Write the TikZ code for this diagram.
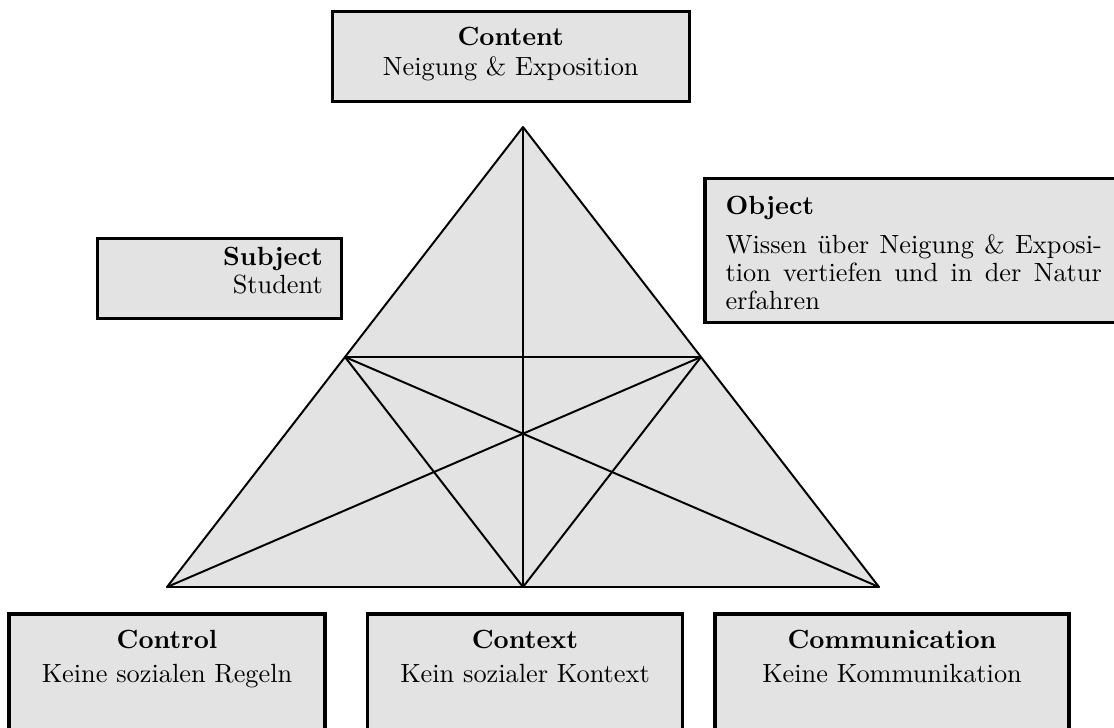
\documentclass[tikz,border=0pt]{standalone}
\usetikzlibrary{calc,fit}
\definecolor{boxgray}{RGB}{227,227,227}
\tikzset{
  box/.style={draw=black, fill=boxgray, line width=1.2pt, inner sep=0pt, rectangle},
  txt/.style={inner sep=0pt, anchor=north},
  tri/.style={line width=0.75pt, line join=round},
}
\begin{document}
\begin{tikzpicture}[x=0.38pt,y=-0.38pt]
\useasboundingbox (0,0) rectangle (1114,727);
\clip (0,0) rectangle (1114,727);
% triangle
\coordinate (A) at (523,127);
\coordinate (B) at (167,587);
\coordinate (C) at (879,587);
\coordinate (mAB) at ($(A)!0.5!(B)$);
\coordinate (mCA) at ($(A)!0.5!(C)$);
\coordinate (mBC) at ($(B)!0.5!(C)$);
\draw[tri, fill=boxgray] (A) -- (B) -- (C) -- cycle;
\draw[tri] (A) -- (mBC);
\draw[tri] (mAB) -- (mCA);
\draw[tri] (mAB) -- (mBC) -- (mCA);
\draw[tri] (B) -- (mCA);
\draw[tri] (C) -- (mAB);
% boxes
\node[box, fit={(332.3,11.7) (689.3,101.7)}] (contentbox) {};
\node[box, fit={(97.3,238.3) (341.7,318.3)}] (subjectbox) {};
\node[box, fit={(705,178.3) (1121,322.7)}] (objectbox) {};
\node[box, fit={(9,614) (325,760)}] (controlbox) {};
\node[box, fit={(367.3,614) (682.7,760)}] (contextbox) {};
\node[box, fit={(715,614) (1069,760)}] (commbox) {};
% texts
\node[txt, align=center, font={\fontsize{10}{11.4}\selectfont}] (contenttxt) at (510.7,26.7)
  {\textbf{Content}\\Neigung \& Exposition};
\node[txt, anchor=north east, align=right, font={\fontsize{10}{10.75}\selectfont}] (subjecttxt) at (323.3,246.7)
  {\textbf{Subject}\\Student};
\node[txt, anchor=north west, text width=143pt, align=justify, font={\fontsize{10}{10.75}\selectfont}] (objecttxt) at (725,195.7)
  {\textbf{Object}\\[4pt]Wissen über Neigung \& Exposi-\linebreak tion vertiefen und in der Natur\linebreak erfahren};
\node[txt, align=center, font={\fontsize{10}{12.7}\selectfont}] (controltxt) at (167,630)
  {\textbf{Control}\\Keine sozialen Regeln};
\node[txt, align=center, font={\fontsize{10}{12.7}\selectfont}] (contexttxt) at (525,630)
  {\textbf{Context}\\Kein sozialer Kontext};
\node[txt, align=center, font={\fontsize{10}{12.7}\selectfont}] (commtxt) at (892,630)
  {\textbf{Communication}\\Keine Kommunikation};
\end{tikzpicture}
\end{document}
